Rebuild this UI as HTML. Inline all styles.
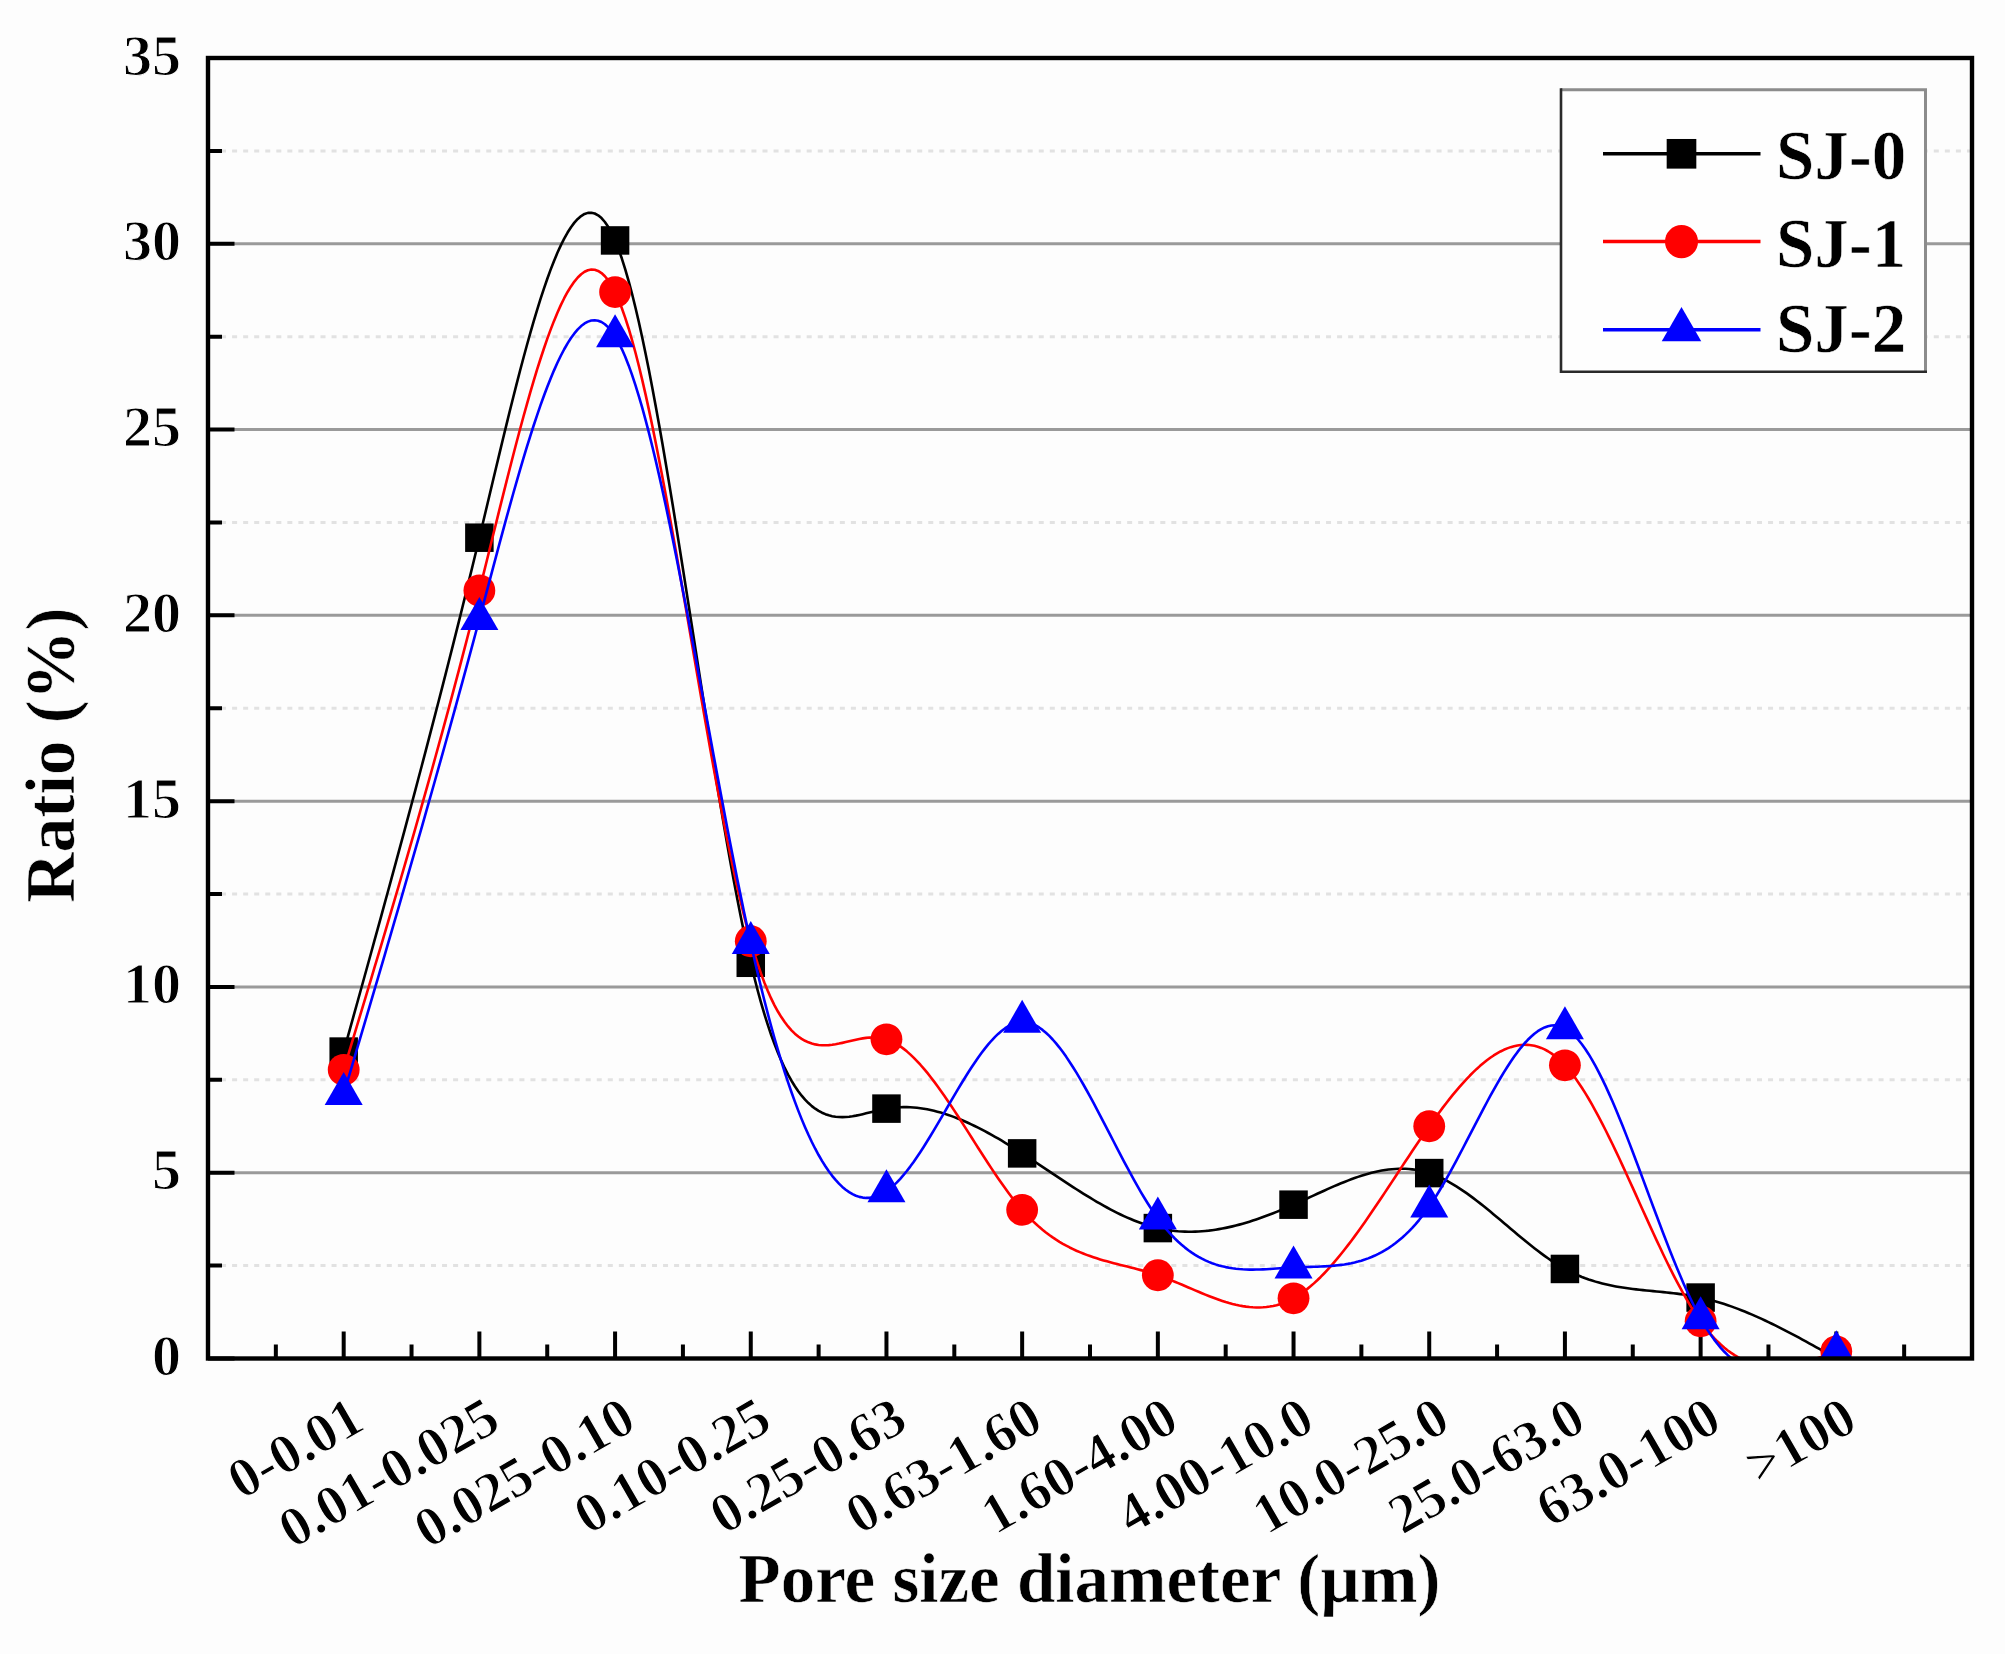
<!DOCTYPE html><html><head><meta charset="utf-8"><style>html,body{margin:0;padding:0;background:#fdfdfd;}svg{display:block;} text{font-family:"Liberation Serif","Times New Roman",serif;font-weight:bold;fill:#000;stroke:#fdfdfd;stroke-width:0.6px;} text.t{stroke-width:1.1px;}</style></head><body>
<svg width="2005" height="1654" viewBox="0 0 2005 1654">
<rect x="0" y="0" width="2005" height="1654" fill="#fdfdfd"/>
<defs><clipPath id="pc"><rect x="208.0" y="58.0" width="1764.0" height="1300.5"/></clipPath></defs>
<line x1="210.0" y1="1265.61" x2="1970.0" y2="1265.61" stroke="#e2e2e2" stroke-width="3" stroke-dasharray="5 6.05"/>
<line x1="210.0" y1="1079.82" x2="1970.0" y2="1079.82" stroke="#e2e2e2" stroke-width="3" stroke-dasharray="5 6.05"/>
<line x1="210.0" y1="894.04" x2="1970.0" y2="894.04" stroke="#e2e2e2" stroke-width="3" stroke-dasharray="5 6.05"/>
<line x1="210.0" y1="708.25" x2="1970.0" y2="708.25" stroke="#e2e2e2" stroke-width="3" stroke-dasharray="5 6.05"/>
<line x1="210.0" y1="522.46" x2="1970.0" y2="522.46" stroke="#e2e2e2" stroke-width="3" stroke-dasharray="5 6.05"/>
<line x1="210.0" y1="336.68" x2="1970.0" y2="336.68" stroke="#e2e2e2" stroke-width="3" stroke-dasharray="5 6.05"/>
<line x1="210.0" y1="150.89" x2="1970.0" y2="150.89" stroke="#e2e2e2" stroke-width="3" stroke-dasharray="5 6.05"/>
<line x1="208.0" y1="1172.71" x2="1972.0" y2="1172.71" stroke="#9a9a9a" stroke-width="3"/>
<line x1="208.0" y1="986.93" x2="1972.0" y2="986.93" stroke="#9a9a9a" stroke-width="3"/>
<line x1="208.0" y1="801.14" x2="1972.0" y2="801.14" stroke="#9a9a9a" stroke-width="3"/>
<line x1="208.0" y1="615.36" x2="1972.0" y2="615.36" stroke="#9a9a9a" stroke-width="3"/>
<line x1="208.0" y1="429.57" x2="1972.0" y2="429.57" stroke="#9a9a9a" stroke-width="3"/>
<line x1="208.0" y1="243.79" x2="1972.0" y2="243.79" stroke="#9a9a9a" stroke-width="3"/>
<path d="M208.0,1358.50h26.5 M208.0,1172.71h26.5 M208.0,986.93h26.5 M208.0,801.14h26.5 M208.0,615.36h26.5 M208.0,429.57h26.5 M208.0,243.79h26.5 M208.0,58.00h26.5 M208.0,1265.61h14 M208.0,1079.82h14 M208.0,894.04h14 M208.0,708.25h14 M208.0,522.46h14 M208.0,336.68h14 M208.0,150.89h14 M343.69,1358.5v-27 M479.38,1358.5v-27 M615.08,1358.5v-27 M750.77,1358.5v-27 M886.46,1358.5v-27 M1022.15,1358.5v-27 M1157.85,1358.5v-27 M1293.54,1358.5v-27 M1429.23,1358.5v-27 M1564.92,1358.5v-27 M1700.62,1358.5v-27 M1836.31,1358.5v-27 M275.85,1358.5v-14 M411.54,1358.5v-14 M547.23,1358.5v-14 M682.92,1358.5v-14 M818.62,1358.5v-14 M954.31,1358.5v-14 M1090.00,1358.5v-14 M1225.69,1358.5v-14 M1361.38,1358.5v-14 M1497.08,1358.5v-14 M1632.77,1358.5v-14 M1768.46,1358.5v-14 M1904.15,1358.5v-14" stroke="#000" stroke-width="4" fill="none"/>
<g clip-path="url(#pc)">
<path d="M343.69,1051.58 L347.08,1039.38 L350.48,1027.17 L353.87,1014.95 L357.26,1002.73 L360.65,990.50 L364.05,978.26 L367.44,966.00 L370.83,953.73 L374.22,941.44 L377.62,929.12 L381.01,916.79 L384.40,904.42 L387.79,892.03 L391.18,879.60 L394.58,867.14 L397.97,854.65 L401.36,842.12 L404.75,829.54 L408.15,816.92 L411.54,804.26 L414.93,791.55 L418.32,778.79 L421.72,765.97 L425.11,753.10 L428.50,740.18 L431.89,727.19 L435.28,714.14 L438.68,701.02 L442.07,687.84 L445.46,674.59 L448.85,661.26 L452.25,647.86 L455.64,634.39 L459.03,620.83 L462.42,607.20 L465.82,593.47 L469.21,579.67 L472.60,565.77 L475.99,551.78 L479.38,537.70 L482.78,523.53 L486.17,509.29 L489.56,495.02 L492.95,480.75 L496.35,466.52 L499.74,452.35 L503.13,438.28 L506.52,424.34 L509.92,410.56 L513.31,396.98 L516.70,383.62 L520.09,370.53 L523.48,357.72 L526.88,345.24 L530.27,333.12 L533.66,321.38 L537.05,310.07 L540.45,299.21 L543.84,288.83 L547.23,278.97 L550.62,269.67 L554.02,260.94 L557.41,252.83 L560.80,245.37 L564.19,238.59 L567.58,232.52 L570.98,227.20 L574.37,222.65 L577.76,218.91 L581.15,216.02 L584.55,213.99 L587.94,212.88 L591.33,212.70 L594.72,213.49 L598.12,215.28 L601.51,218.12 L604.90,222.01 L608.29,227.01 L611.68,233.15 L615.08,240.44 L618.47,248.92 L621.86,258.55 L625.25,269.27 L628.65,281.03 L632.04,293.78 L635.43,307.47 L638.82,322.05 L642.22,337.46 L645.61,353.66 L649.00,370.59 L652.39,388.20 L655.78,406.44 L659.18,425.25 L662.57,444.59 L665.96,464.41 L669.35,484.65 L672.75,505.26 L676.14,526.19 L679.53,547.38 L682.92,568.79 L686.32,590.37 L689.71,612.06 L693.10,633.81 L696.49,655.56 L699.88,677.28 L703.28,698.90 L706.67,720.38 L710.06,741.65 L713.45,762.68 L716.85,783.41 L720.24,803.78 L723.63,823.76 L727.02,843.27 L730.42,862.28 L733.81,880.73 L737.20,898.57 L740.59,915.74 L743.98,932.20 L747.38,947.90 L750.77,962.78 L754.16,976.80 L757.55,989.98 L760.95,1002.33 L764.34,1013.90 L767.73,1024.69 L771.12,1034.74 L774.52,1044.06 L777.91,1052.69 L781.30,1060.65 L784.69,1067.96 L788.08,1074.65 L791.48,1080.74 L794.87,1086.25 L798.26,1091.22 L801.65,1095.67 L805.05,1099.61 L808.44,1103.08 L811.83,1106.10 L815.22,1108.70 L818.62,1110.89 L822.01,1112.71 L825.40,1114.18 L828.79,1115.32 L832.18,1116.16 L835.58,1116.72 L838.97,1117.03 L842.36,1117.11 L845.75,1116.98 L849.15,1116.68 L852.54,1116.23 L855.93,1115.64 L859.32,1114.95 L862.72,1114.18 L866.11,1113.36 L869.50,1112.50 L872.89,1111.64 L876.28,1110.79 L879.68,1109.99 L883.07,1109.26 L886.46,1108.62 L889.85,1108.09 L893.25,1107.68 L896.64,1107.38 L900.03,1107.18 L903.42,1107.10 L906.82,1107.12 L910.21,1107.25 L913.60,1107.47 L916.99,1107.79 L920.38,1108.21 L923.78,1108.72 L927.17,1109.33 L930.56,1110.02 L933.95,1110.79 L937.35,1111.66 L940.74,1112.60 L944.13,1113.62 L947.52,1114.72 L950.92,1115.89 L954.31,1117.13 L957.70,1118.44 L961.09,1119.82 L964.48,1121.27 L967.88,1122.77 L971.27,1124.34 L974.66,1125.96 L978.05,1127.64 L981.45,1129.37 L984.84,1131.16 L988.23,1132.99 L991.62,1134.86 L995.02,1136.78 L998.41,1138.74 L1001.80,1140.74 L1005.19,1142.77 L1008.58,1144.84 L1011.98,1146.93 L1015.37,1149.06 L1018.76,1151.22 L1022.15,1153.39 L1025.55,1155.59 L1028.94,1157.81 L1032.33,1160.04 L1035.72,1162.29 L1039.12,1164.55 L1042.51,1166.81 L1045.90,1169.08 L1049.29,1171.35 L1052.68,1173.62 L1056.08,1175.89 L1059.47,1178.15 L1062.86,1180.40 L1066.25,1182.64 L1069.65,1184.86 L1073.04,1187.07 L1076.43,1189.25 L1079.82,1191.41 L1083.22,1193.55 L1086.61,1195.65 L1090.00,1197.72 L1093.39,1199.76 L1096.78,1201.76 L1100.18,1203.72 L1103.57,1205.64 L1106.96,1207.51 L1110.35,1209.33 L1113.75,1211.10 L1117.14,1212.81 L1120.53,1214.47 L1123.92,1216.06 L1127.32,1217.60 L1130.71,1219.06 L1134.10,1220.46 L1137.49,1221.79 L1140.88,1223.04 L1144.28,1224.21 L1147.67,1225.31 L1151.06,1226.32 L1154.45,1227.24 L1157.85,1228.08 L1161.24,1228.82 L1164.63,1229.48 L1168.02,1230.05 L1171.42,1230.53 L1174.81,1230.93 L1178.20,1231.24 L1181.59,1231.47 L1184.98,1231.62 L1188.38,1231.70 L1191.77,1231.70 L1195.16,1231.62 L1198.55,1231.47 L1201.95,1231.25 L1205.34,1230.96 L1208.73,1230.61 L1212.12,1230.18 L1215.52,1229.70 L1218.91,1229.15 L1222.30,1228.54 L1225.69,1227.87 L1229.08,1227.14 L1232.48,1226.36 L1235.87,1225.52 L1239.26,1224.63 L1242.65,1223.69 L1246.05,1222.70 L1249.44,1221.66 L1252.83,1220.58 L1256.22,1219.46 L1259.62,1218.29 L1263.01,1217.08 L1266.40,1215.83 L1269.79,1214.55 L1273.18,1213.23 L1276.58,1211.88 L1279.97,1210.49 L1283.36,1209.08 L1286.75,1207.64 L1290.15,1206.16 L1293.54,1204.67 L1296.93,1203.15 L1300.32,1201.61 L1303.72,1200.06 L1307.11,1198.50 L1310.50,1196.93 L1313.89,1195.36 L1317.28,1193.80 L1320.68,1192.24 L1324.07,1190.70 L1327.46,1189.17 L1330.85,1187.66 L1334.25,1186.18 L1337.64,1184.72 L1341.03,1183.31 L1344.42,1181.93 L1347.82,1180.59 L1351.21,1179.30 L1354.60,1178.07 L1357.99,1176.89 L1361.38,1175.77 L1364.78,1174.72 L1368.17,1173.74 L1371.56,1172.83 L1374.95,1172.00 L1378.35,1171.25 L1381.74,1170.59 L1385.13,1170.03 L1388.52,1169.56 L1391.92,1169.19 L1395.31,1168.93 L1398.70,1168.78 L1402.09,1168.74 L1405.48,1168.82 L1408.88,1169.02 L1412.27,1169.35 L1415.66,1169.82 L1419.05,1170.42 L1422.45,1171.16 L1425.84,1172.05 L1429.23,1173.09 L1432.62,1174.28 L1436.02,1175.61 L1439.41,1177.09 L1442.80,1178.71 L1446.19,1180.45 L1449.58,1182.31 L1452.98,1184.28 L1456.37,1186.36 L1459.76,1188.54 L1463.15,1190.82 L1466.55,1193.18 L1469.94,1195.62 L1473.33,1198.14 L1476.72,1200.72 L1480.12,1203.36 L1483.51,1206.06 L1486.90,1208.80 L1490.29,1211.58 L1493.68,1214.39 L1497.08,1217.22 L1500.47,1220.08 L1503.86,1222.95 L1507.25,1225.82 L1510.65,1228.70 L1514.04,1231.56 L1517.43,1234.41 L1520.82,1237.24 L1524.22,1240.04 L1527.61,1242.80 L1531.00,1245.53 L1534.39,1248.20 L1537.78,1250.82 L1541.18,1253.37 L1544.57,1255.86 L1547.96,1258.27 L1551.35,1260.60 L1554.75,1262.84 L1558.14,1264.98 L1561.53,1267.02 L1564.92,1268.95 L1568.32,1270.77 L1571.71,1272.47 L1575.10,1274.06 L1578.49,1275.56 L1581.88,1276.95 L1585.28,1278.25 L1588.67,1279.46 L1592.06,1280.58 L1595.45,1281.62 L1598.85,1282.59 L1602.24,1283.48 L1605.63,1284.30 L1609.02,1285.06 L1612.42,1285.76 L1615.81,1286.41 L1619.20,1287.00 L1622.59,1287.55 L1625.98,1288.06 L1629.38,1288.53 L1632.77,1288.97 L1636.16,1289.37 L1639.55,1289.76 L1642.95,1290.12 L1646.34,1290.47 L1649.73,1290.81 L1653.12,1291.14 L1656.52,1291.47 L1659.91,1291.80 L1663.30,1292.14 L1666.69,1292.49 L1670.08,1292.86 L1673.48,1293.24 L1676.87,1293.65 L1680.26,1294.09 L1683.65,1294.56 L1687.05,1295.07 L1690.44,1295.62 L1693.83,1296.21 L1697.22,1296.86 L1700.62,1297.56 L1704.01,1298.32 L1707.40,1299.14 L1710.79,1300.02 L1714.18,1300.95 L1717.58,1301.93 L1720.97,1302.96 L1724.36,1304.05 L1727.75,1305.18 L1731.15,1306.37 L1734.54,1307.60 L1737.93,1308.87 L1741.32,1310.19 L1744.72,1311.54 L1748.11,1312.94 L1751.50,1314.38 L1754.89,1315.85 L1758.28,1317.36 L1761.68,1318.90 L1765.07,1320.48 L1768.46,1322.09 L1771.85,1323.72 L1775.25,1325.39 L1778.64,1327.08 L1782.03,1328.80 L1785.42,1330.54 L1788.82,1332.30 L1792.21,1334.09 L1795.60,1335.89 L1798.99,1337.71 L1802.38,1339.55 L1805.78,1341.40 L1809.17,1343.27 L1812.56,1345.15 L1815.95,1347.04 L1819.35,1348.93 L1822.74,1350.84 L1826.13,1352.75 L1829.52,1354.66 L1832.92,1356.58 L1836.31,1358.50" fill="none" stroke="#000000" stroke-width="2.60" stroke-linejoin="round"/>
<rect x="329.44" y="1037.33" width="28.50" height="28.50" fill="#000000"/>
<rect x="465.13" y="523.45" width="28.50" height="28.50" fill="#000000"/>
<rect x="600.83" y="226.19" width="28.50" height="28.50" fill="#000000"/>
<rect x="736.52" y="948.53" width="28.50" height="28.50" fill="#000000"/>
<rect x="872.21" y="1094.37" width="28.50" height="28.50" fill="#000000"/>
<rect x="1007.90" y="1139.14" width="28.50" height="28.50" fill="#000000"/>
<rect x="1143.60" y="1213.83" width="28.50" height="28.50" fill="#000000"/>
<rect x="1279.29" y="1190.42" width="28.50" height="28.50" fill="#000000"/>
<rect x="1414.98" y="1158.84" width="28.50" height="28.50" fill="#000000"/>
<rect x="1550.67" y="1254.70" width="28.50" height="28.50" fill="#000000"/>
<rect x="1686.37" y="1283.31" width="28.50" height="28.50" fill="#000000"/>
<rect x="1822.06" y="1344.25" width="28.50" height="28.50" fill="#000000"/>
<path d="M343.69,1069.79 L347.08,1058.57 L350.48,1047.35 L353.87,1036.13 L357.26,1024.89 L360.65,1013.65 L364.05,1002.39 L367.44,991.11 L370.83,979.81 L374.22,968.49 L377.62,957.14 L381.01,945.77 L384.40,934.36 L387.79,922.92 L391.18,911.44 L394.58,899.92 L397.97,888.36 L401.36,876.75 L404.75,865.10 L408.15,853.39 L411.54,841.62 L414.93,829.80 L418.32,817.92 L421.72,805.98 L425.11,793.97 L428.50,781.89 L431.89,769.74 L435.28,757.51 L438.68,745.21 L442.07,732.82 L445.46,720.36 L448.85,707.80 L452.25,695.16 L455.64,682.42 L459.03,669.59 L462.42,656.67 L465.82,643.64 L469.21,630.51 L472.60,617.27 L475.99,603.92 L479.38,590.46 L482.78,576.89 L486.17,563.24 L489.56,549.54 L492.95,535.81 L496.35,522.10 L499.74,508.42 L503.13,494.82 L506.52,481.33 L509.92,467.96 L513.31,454.77 L516.70,441.78 L520.09,429.01 L523.48,416.51 L526.88,404.29 L530.27,392.41 L533.66,380.87 L537.05,369.73 L540.45,359.00 L543.84,348.72 L547.23,338.92 L550.62,329.63 L554.02,320.89 L557.41,312.72 L560.80,305.15 L564.19,298.23 L567.58,291.97 L570.98,286.41 L574.37,281.58 L577.76,277.52 L581.15,274.25 L584.55,271.80 L587.94,270.21 L591.33,269.51 L594.72,269.73 L598.12,270.90 L601.51,273.04 L604.90,276.21 L608.29,280.42 L611.68,285.70 L615.08,292.09 L618.47,299.61 L621.86,308.21 L625.25,317.85 L628.65,328.48 L632.04,340.04 L635.43,352.49 L638.82,365.77 L642.22,379.84 L645.61,394.64 L649.00,410.13 L652.39,426.25 L655.78,442.95 L659.18,460.18 L662.57,477.89 L665.96,496.03 L669.35,514.55 L672.75,533.40 L676.14,552.52 L679.53,571.88 L682.92,591.41 L686.32,611.07 L689.71,630.80 L693.10,650.56 L696.49,670.29 L699.88,689.95 L703.28,709.48 L706.67,728.83 L710.06,747.95 L713.45,766.80 L716.85,785.31 L720.24,803.45 L723.63,821.15 L727.02,838.38 L730.42,855.07 L733.81,871.18 L737.20,886.66 L740.59,901.45 L743.98,915.51 L747.38,928.79 L750.77,941.23 L754.16,952.79 L757.55,963.50 L760.95,973.39 L764.34,982.48 L767.73,990.81 L771.12,998.41 L774.52,1005.30 L777.91,1011.52 L781.30,1017.10 L784.69,1022.07 L788.08,1026.46 L791.48,1030.31 L794.87,1033.63 L798.26,1036.46 L801.65,1038.84 L805.05,1040.79 L808.44,1042.35 L811.83,1043.54 L815.22,1044.40 L818.62,1044.95 L822.01,1045.23 L825.40,1045.26 L828.79,1045.09 L832.18,1044.73 L835.58,1044.22 L838.97,1043.59 L842.36,1042.87 L845.75,1042.09 L849.15,1041.29 L852.54,1040.49 L855.93,1039.72 L859.32,1039.01 L862.72,1038.40 L866.11,1037.91 L869.50,1037.58 L872.89,1037.43 L876.28,1037.50 L879.68,1037.82 L883.07,1038.42 L886.46,1039.32 L889.85,1040.56 L893.25,1042.12 L896.64,1043.99 L900.03,1046.17 L903.42,1048.63 L906.82,1051.36 L910.21,1054.35 L913.60,1057.58 L916.99,1061.05 L920.38,1064.74 L923.78,1068.62 L927.17,1072.70 L930.56,1076.96 L933.95,1081.38 L937.35,1085.96 L940.74,1090.67 L944.13,1095.50 L947.52,1100.45 L950.92,1105.49 L954.31,1110.61 L957.70,1115.81 L961.09,1121.06 L964.48,1126.35 L967.88,1131.67 L971.27,1137.01 L974.66,1142.36 L978.05,1147.69 L981.45,1152.99 L984.84,1158.26 L988.23,1163.48 L991.62,1168.63 L995.02,1173.71 L998.41,1178.69 L1001.80,1183.57 L1005.19,1188.33 L1008.58,1192.95 L1011.98,1197.44 L1015.37,1201.76 L1018.76,1205.91 L1022.15,1209.87 L1025.55,1213.64 L1028.94,1217.21 L1032.33,1220.60 L1035.72,1223.81 L1039.12,1226.85 L1042.51,1229.72 L1045.90,1232.43 L1049.29,1234.98 L1052.68,1237.39 L1056.08,1239.66 L1059.47,1241.79 L1062.86,1243.80 L1066.25,1245.69 L1069.65,1247.47 L1073.04,1249.13 L1076.43,1250.70 L1079.82,1252.17 L1083.22,1253.56 L1086.61,1254.86 L1090.00,1256.09 L1093.39,1257.26 L1096.78,1258.36 L1100.18,1259.40 L1103.57,1260.40 L1106.96,1261.36 L1110.35,1262.29 L1113.75,1263.18 L1117.14,1264.06 L1120.53,1264.91 L1123.92,1265.77 L1127.32,1266.61 L1130.71,1267.47 L1134.10,1268.33 L1137.49,1269.22 L1140.88,1270.13 L1144.28,1271.07 L1147.67,1272.04 L1151.06,1273.06 L1154.45,1274.14 L1157.85,1275.27 L1161.24,1276.46 L1164.63,1277.71 L1168.02,1279.01 L1171.42,1280.35 L1174.81,1281.73 L1178.20,1283.14 L1181.59,1284.57 L1184.98,1286.02 L1188.38,1287.47 L1191.77,1288.93 L1195.16,1290.38 L1198.55,1291.81 L1201.95,1293.23 L1205.34,1294.62 L1208.73,1295.97 L1212.12,1297.29 L1215.52,1298.55 L1218.91,1299.77 L1222.30,1300.91 L1225.69,1302.00 L1229.08,1303.00 L1232.48,1303.92 L1235.87,1304.75 L1239.26,1305.49 L1242.65,1306.12 L1246.05,1306.64 L1249.44,1307.04 L1252.83,1307.31 L1256.22,1307.46 L1259.62,1307.46 L1263.01,1307.32 L1266.40,1307.02 L1269.79,1306.57 L1273.18,1305.94 L1276.58,1305.15 L1279.97,1304.17 L1283.36,1303.00 L1286.75,1301.64 L1290.15,1300.08 L1293.54,1298.31 L1296.93,1296.32 L1300.32,1294.12 L1303.72,1291.72 L1307.11,1289.13 L1310.50,1286.35 L1313.89,1283.39 L1317.28,1280.25 L1320.68,1276.95 L1324.07,1273.49 L1327.46,1269.88 L1330.85,1266.12 L1334.25,1262.23 L1337.64,1258.20 L1341.03,1254.05 L1344.42,1249.79 L1347.82,1245.41 L1351.21,1240.94 L1354.60,1236.37 L1357.99,1231.71 L1361.38,1226.97 L1364.78,1222.15 L1368.17,1217.28 L1371.56,1212.34 L1374.95,1207.35 L1378.35,1202.31 L1381.74,1197.24 L1385.13,1192.14 L1388.52,1187.01 L1391.92,1181.87 L1395.31,1176.71 L1398.70,1171.56 L1402.09,1166.41 L1405.48,1161.28 L1408.88,1156.16 L1412.27,1151.07 L1415.66,1146.01 L1419.05,1141.00 L1422.45,1136.03 L1425.84,1131.12 L1429.23,1126.27 L1432.62,1121.49 L1436.02,1116.78 L1439.41,1112.16 L1442.80,1107.64 L1446.19,1103.20 L1449.58,1098.88 L1452.98,1094.67 L1456.37,1090.57 L1459.76,1086.60 L1463.15,1082.77 L1466.55,1079.08 L1469.94,1075.53 L1473.33,1072.14 L1476.72,1068.92 L1480.12,1065.86 L1483.51,1062.98 L1486.90,1060.28 L1490.29,1057.77 L1493.68,1055.46 L1497.08,1053.36 L1500.47,1051.47 L1503.86,1049.79 L1507.25,1048.35 L1510.65,1047.14 L1514.04,1046.16 L1517.43,1045.44 L1520.82,1044.97 L1524.22,1044.77 L1527.61,1044.83 L1531.00,1045.17 L1534.39,1045.79 L1537.78,1046.70 L1541.18,1047.91 L1544.57,1049.43 L1547.96,1051.26 L1551.35,1053.41 L1554.75,1055.88 L1558.14,1058.69 L1561.53,1061.83 L1564.92,1065.33 L1568.32,1069.18 L1571.71,1073.36 L1575.10,1077.87 L1578.49,1082.68 L1581.88,1087.78 L1585.28,1093.16 L1588.67,1098.79 L1592.06,1104.66 L1595.45,1110.76 L1598.85,1117.06 L1602.24,1123.56 L1605.63,1130.23 L1609.02,1137.05 L1612.42,1144.02 L1615.81,1151.12 L1619.20,1158.32 L1622.59,1165.62 L1625.98,1172.99 L1629.38,1180.42 L1632.77,1187.90 L1636.16,1195.40 L1639.55,1202.92 L1642.95,1210.43 L1646.34,1217.91 L1649.73,1225.36 L1653.12,1232.75 L1656.52,1240.08 L1659.91,1247.31 L1663.30,1254.44 L1666.69,1261.45 L1670.08,1268.33 L1673.48,1275.05 L1676.87,1281.60 L1680.26,1287.97 L1683.65,1294.13 L1687.05,1300.08 L1690.44,1305.79 L1693.83,1311.24 L1697.22,1316.44 L1700.62,1321.34 L1704.01,1325.95 L1707.40,1330.27 L1710.79,1334.30 L1714.18,1338.06 L1717.58,1341.54 L1720.97,1344.76 L1724.36,1347.73 L1727.75,1350.44 L1731.15,1352.92 L1734.54,1355.16 L1737.93,1357.18 L1741.32,1358.98 L1744.72,1360.57 L1748.11,1361.96 L1751.50,1363.15 L1754.89,1364.15 L1758.28,1364.98 L1761.68,1365.63 L1765.07,1366.12 L1768.46,1366.44 L1771.85,1366.62 L1775.25,1366.66 L1778.64,1366.56 L1782.03,1366.33 L1785.42,1365.98 L1788.82,1365.52 L1792.21,1364.95 L1795.60,1364.29 L1798.99,1363.53 L1802.38,1362.70 L1805.78,1361.79 L1809.17,1360.81 L1812.56,1359.77 L1815.95,1358.68 L1819.35,1357.54 L1822.74,1356.36 L1826.13,1355.16 L1829.52,1353.93 L1832.92,1352.69 L1836.31,1351.44" fill="none" stroke="#ff0000" stroke-width="2.60" stroke-linejoin="round"/>
<circle cx="343.69" cy="1069.79" r="15.90" fill="#ff0000"/>
<circle cx="479.38" cy="590.46" r="15.90" fill="#ff0000"/>
<circle cx="615.08" cy="292.09" r="15.90" fill="#ff0000"/>
<circle cx="750.77" cy="941.23" r="15.90" fill="#ff0000"/>
<circle cx="886.46" cy="1039.32" r="15.90" fill="#ff0000"/>
<circle cx="1022.15" cy="1209.87" r="15.90" fill="#ff0000"/>
<circle cx="1157.85" cy="1275.27" r="15.90" fill="#ff0000"/>
<circle cx="1293.54" cy="1298.31" r="15.90" fill="#ff0000"/>
<circle cx="1429.23" cy="1126.27" r="15.90" fill="#ff0000"/>
<circle cx="1564.92" cy="1065.33" r="15.90" fill="#ff0000"/>
<circle cx="1700.62" cy="1321.34" r="15.90" fill="#ff0000"/>
<circle cx="1836.31" cy="1351.44" r="15.90" fill="#ff0000"/>
<path d="M343.69,1093.94 L347.08,1082.48 L350.48,1071.02 L353.87,1059.56 L357.26,1048.10 L360.65,1036.62 L364.05,1025.14 L367.44,1013.65 L370.83,1002.15 L374.22,990.64 L377.62,979.11 L381.01,967.57 L384.40,956.01 L387.79,944.43 L391.18,932.83 L394.58,921.21 L397.97,909.57 L401.36,897.90 L404.75,886.20 L408.15,874.48 L411.54,862.73 L414.93,850.94 L418.32,839.12 L421.72,827.27 L425.11,815.39 L428.50,803.46 L431.89,791.50 L435.28,779.50 L438.68,767.45 L442.07,755.36 L445.46,743.23 L448.85,731.05 L452.25,718.82 L455.64,706.54 L459.03,694.21 L462.42,681.83 L465.82,669.40 L469.21,656.90 L472.60,644.35 L475.99,631.74 L479.38,619.07 L482.78,606.35 L486.17,593.58 L489.56,580.81 L492.95,568.05 L496.35,555.33 L499.74,542.68 L503.13,530.12 L506.52,517.68 L509.92,505.38 L513.31,493.25 L516.70,481.32 L520.09,469.61 L523.48,458.15 L526.88,446.96 L530.27,436.07 L533.66,425.50 L537.05,415.29 L540.45,405.45 L543.84,396.01 L547.23,387.00 L550.62,378.44 L554.02,370.36 L557.41,362.79 L560.80,355.75 L564.19,349.26 L567.58,343.36 L570.98,338.07 L574.37,333.40 L577.76,329.40 L581.15,326.09 L584.55,323.48 L587.94,321.62 L591.33,320.51 L594.72,320.20 L598.12,320.69 L601.51,322.03 L604.90,324.24 L608.29,327.34 L611.68,331.35 L615.08,336.31 L618.47,342.22 L621.86,349.07 L625.25,356.82 L628.65,365.42 L632.04,374.86 L635.43,385.07 L638.82,396.05 L642.22,407.73 L645.61,420.10 L649.00,433.11 L652.39,446.73 L655.78,460.91 L659.18,475.64 L662.57,490.86 L665.96,506.54 L669.35,522.65 L672.75,539.15 L676.14,556.01 L679.53,573.18 L682.92,590.63 L686.32,608.33 L689.71,626.24 L693.10,644.32 L696.49,662.54 L699.88,680.85 L703.28,699.24 L706.67,717.65 L710.06,736.05 L713.45,754.41 L716.85,772.69 L720.24,790.85 L723.63,808.86 L727.02,826.68 L730.42,844.27 L733.81,861.60 L737.20,878.64 L740.59,895.34 L743.98,911.67 L747.38,927.60 L750.77,943.08 L754.16,958.09 L757.55,972.63 L760.95,986.69 L764.34,1000.28 L767.73,1013.40 L771.12,1026.04 L774.52,1038.23 L777.91,1049.94 L781.30,1061.20 L784.69,1071.99 L788.08,1082.33 L791.48,1092.21 L794.87,1101.63 L798.26,1110.60 L801.65,1119.12 L805.05,1127.19 L808.44,1134.81 L811.83,1141.99 L815.22,1148.73 L818.62,1155.02 L822.01,1160.87 L825.40,1166.29 L828.79,1171.28 L832.18,1175.82 L835.58,1179.94 L838.97,1183.63 L842.36,1186.89 L845.75,1189.73 L849.15,1192.14 L852.54,1194.13 L855.93,1195.70 L859.32,1196.86 L862.72,1197.60 L866.11,1197.92 L869.50,1197.83 L872.89,1197.34 L876.28,1196.43 L879.68,1195.12 L883.07,1193.41 L886.46,1191.29 L889.85,1188.78 L893.25,1185.89 L896.64,1182.65 L900.03,1179.07 L903.42,1175.19 L906.82,1171.02 L910.21,1166.59 L913.60,1161.92 L916.99,1157.02 L920.38,1151.94 L923.78,1146.68 L927.17,1141.28 L930.56,1135.74 L933.95,1130.11 L937.35,1124.39 L940.74,1118.62 L944.13,1112.80 L947.52,1106.98 L950.92,1101.17 L954.31,1095.39 L957.70,1089.67 L961.09,1084.02 L964.48,1078.48 L967.88,1073.06 L971.27,1067.79 L974.66,1062.69 L978.05,1057.78 L981.45,1053.08 L984.84,1048.63 L988.23,1044.43 L991.62,1040.52 L995.02,1036.92 L998.41,1033.64 L1001.80,1030.72 L1005.19,1028.17 L1008.58,1026.02 L1011.98,1024.29 L1015.37,1023.01 L1018.76,1022.19 L1022.15,1021.86 L1025.55,1022.03 L1028.94,1022.70 L1032.33,1023.83 L1035.72,1025.42 L1039.12,1027.45 L1042.51,1029.89 L1045.90,1032.72 L1049.29,1035.92 L1052.68,1039.48 L1056.08,1043.38 L1059.47,1047.58 L1062.86,1052.09 L1066.25,1056.87 L1069.65,1061.91 L1073.04,1067.18 L1076.43,1072.67 L1079.82,1078.36 L1083.22,1084.23 L1086.61,1090.25 L1090.00,1096.41 L1093.39,1102.69 L1096.78,1109.07 L1100.18,1115.53 L1103.57,1122.05 L1106.96,1128.61 L1110.35,1135.18 L1113.75,1141.76 L1117.14,1148.32 L1120.53,1154.85 L1123.92,1161.31 L1127.32,1167.69 L1130.71,1173.98 L1134.10,1180.15 L1137.49,1186.19 L1140.88,1192.07 L1144.28,1197.77 L1147.67,1203.27 L1151.06,1208.56 L1154.45,1213.62 L1157.85,1218.42 L1161.24,1222.95 L1164.63,1227.21 L1168.02,1231.22 L1171.42,1234.97 L1174.81,1238.48 L1178.20,1241.75 L1181.59,1244.80 L1184.98,1247.62 L1188.38,1250.23 L1191.77,1252.64 L1195.16,1254.85 L1198.55,1256.87 L1201.95,1258.70 L1205.34,1260.36 L1208.73,1261.86 L1212.12,1263.19 L1215.52,1264.38 L1218.91,1265.42 L1222.30,1266.32 L1225.69,1267.10 L1229.08,1267.75 L1232.48,1268.30 L1235.87,1268.73 L1239.26,1269.07 L1242.65,1269.32 L1246.05,1269.49 L1249.44,1269.58 L1252.83,1269.60 L1256.22,1269.57 L1259.62,1269.48 L1263.01,1269.35 L1266.40,1269.18 L1269.79,1268.99 L1273.18,1268.77 L1276.58,1268.54 L1279.97,1268.31 L1283.36,1268.07 L1286.75,1267.85 L1290.15,1267.65 L1293.54,1267.46 L1296.93,1267.31 L1300.32,1267.19 L1303.72,1267.08 L1307.11,1266.99 L1310.50,1266.89 L1313.89,1266.79 L1317.28,1266.68 L1320.68,1266.55 L1324.07,1266.39 L1327.46,1266.19 L1330.85,1265.96 L1334.25,1265.67 L1337.64,1265.32 L1341.03,1264.91 L1344.42,1264.43 L1347.82,1263.87 L1351.21,1263.21 L1354.60,1262.47 L1357.99,1261.61 L1361.38,1260.65 L1364.78,1259.57 L1368.17,1258.37 L1371.56,1257.03 L1374.95,1255.55 L1378.35,1253.92 L1381.74,1252.13 L1385.13,1250.18 L1388.52,1248.07 L1391.92,1245.77 L1395.31,1243.28 L1398.70,1240.60 L1402.09,1237.72 L1405.48,1234.63 L1408.88,1231.33 L1412.27,1227.80 L1415.66,1224.04 L1419.05,1220.04 L1422.45,1215.79 L1425.84,1211.29 L1429.23,1206.53 L1432.62,1201.50 L1436.02,1196.22 L1439.41,1190.72 L1442.80,1185.02 L1446.19,1179.13 L1449.58,1173.08 L1452.98,1166.90 L1456.37,1160.60 L1459.76,1154.20 L1463.15,1147.73 L1466.55,1141.21 L1469.94,1134.66 L1473.33,1128.11 L1476.72,1121.56 L1480.12,1115.06 L1483.51,1108.61 L1486.90,1102.24 L1490.29,1095.98 L1493.68,1089.84 L1497.08,1083.84 L1500.47,1078.01 L1503.86,1072.38 L1507.25,1066.95 L1510.65,1061.75 L1514.04,1056.81 L1517.43,1052.15 L1520.82,1047.79 L1524.22,1043.75 L1527.61,1040.04 L1531.00,1036.71 L1534.39,1033.76 L1537.78,1031.21 L1541.18,1029.10 L1544.57,1027.44 L1547.96,1026.25 L1551.35,1025.56 L1554.75,1025.38 L1558.14,1025.74 L1561.53,1026.67 L1564.92,1028.17 L1568.32,1030.28 L1571.71,1032.96 L1575.10,1036.20 L1578.49,1039.96 L1581.88,1044.24 L1585.28,1048.99 L1588.67,1054.19 L1592.06,1059.83 L1595.45,1065.87 L1598.85,1072.30 L1602.24,1079.08 L1605.63,1086.18 L1609.02,1093.60 L1612.42,1101.29 L1615.81,1109.25 L1619.20,1117.43 L1622.59,1125.82 L1625.98,1134.39 L1629.38,1143.11 L1632.77,1151.97 L1636.16,1160.93 L1639.55,1169.98 L1642.95,1179.08 L1646.34,1188.22 L1649.73,1197.36 L1653.12,1206.48 L1656.52,1215.56 L1659.91,1224.57 L1663.30,1233.49 L1666.69,1242.30 L1670.08,1250.95 L1673.48,1259.45 L1676.87,1267.75 L1680.26,1275.83 L1683.65,1283.67 L1687.05,1291.24 L1690.44,1298.53 L1693.83,1305.49 L1697.22,1312.11 L1700.62,1318.37 L1704.01,1324.24 L1707.40,1329.73 L1710.79,1334.85 L1714.18,1339.60 L1717.58,1344.01 L1720.97,1348.07 L1724.36,1351.79 L1727.75,1355.20 L1731.15,1358.29 L1734.54,1361.08 L1737.93,1363.57 L1741.32,1365.78 L1744.72,1367.72 L1748.11,1369.39 L1751.50,1370.81 L1754.89,1371.98 L1758.28,1372.92 L1761.68,1373.63 L1765.07,1374.13 L1768.46,1374.43 L1771.85,1374.52 L1775.25,1374.43 L1778.64,1374.17 L1782.03,1373.73 L1785.42,1373.15 L1788.82,1372.41 L1792.21,1371.54 L1795.60,1370.54 L1798.99,1369.42 L1802.38,1368.20 L1805.78,1366.88 L1809.17,1365.46 L1812.56,1363.98 L1815.95,1362.42 L1819.35,1360.80 L1822.74,1359.14 L1826.13,1357.43 L1829.52,1355.70 L1832.92,1353.95 L1836.31,1352.18" fill="none" stroke="#0000ff" stroke-width="2.60" stroke-linejoin="round"/>
<polygon points="343.69,1071.94 362.69,1104.94 324.69,1104.94" fill="#0000ff"/>
<polygon points="479.38,597.07 498.38,630.07 460.38,630.07" fill="#0000ff"/>
<polygon points="615.08,314.31 634.08,347.31 596.08,347.31" fill="#0000ff"/>
<polygon points="750.77,921.08 769.77,954.08 731.77,954.08" fill="#0000ff"/>
<polygon points="886.46,1169.29 905.46,1202.29 867.46,1202.29" fill="#0000ff"/>
<polygon points="1022.15,999.86 1041.15,1032.86 1003.15,1032.86" fill="#0000ff"/>
<polygon points="1157.85,1196.42 1176.85,1229.42 1138.85,1229.42" fill="#0000ff"/>
<polygon points="1293.54,1245.46 1312.54,1278.46 1274.54,1278.46" fill="#0000ff"/>
<polygon points="1429.23,1184.53 1448.23,1217.53 1410.23,1217.53" fill="#0000ff"/>
<polygon points="1564.92,1006.17 1583.92,1039.17 1545.92,1039.17" fill="#0000ff"/>
<polygon points="1700.62,1296.37 1719.62,1329.37 1681.62,1329.37" fill="#0000ff"/>
<polygon points="1836.31,1330.18 1855.31,1363.18 1817.31,1363.18" fill="#0000ff"/>
</g>
<rect x="208.0" y="58.0" width="1764.0" height="1300.5" fill="none" stroke="#000" stroke-width="4.4"/>
<text class="t" x="181" y="1375.0" font-size="58" text-anchor="end">0</text>
<text class="t" x="181" y="1189.2" font-size="58" text-anchor="end">5</text>
<text class="t" x="181" y="1003.4" font-size="58" text-anchor="end">10</text>
<text class="t" x="181" y="817.6" font-size="58" text-anchor="end">15</text>
<text class="t" x="181" y="631.9" font-size="58" text-anchor="end">20</text>
<text class="t" x="181" y="446.1" font-size="58" text-anchor="end">25</text>
<text class="t" x="181" y="260.3" font-size="58" text-anchor="end">30</text>
<text class="t" x="181" y="74.5" font-size="58" text-anchor="end">35</text>
<text class="t" x="0" y="0" font-size="56.0" text-anchor="end" transform="translate(367.1 1428.0) rotate(-30)">0-0.01</text>
<text class="t" x="0" y="0" font-size="56.0" text-anchor="end" transform="translate(502.8 1428.0) rotate(-30)">0.01-0.025</text>
<text class="t" x="0" y="0" font-size="56.0" text-anchor="end" transform="translate(638.5 1428.0) rotate(-30)">0.025-0.10</text>
<text class="t" x="0" y="0" font-size="56.0" text-anchor="end" transform="translate(774.2 1428.0) rotate(-30)">0.10-0.25</text>
<text class="t" x="0" y="0" font-size="56.0" text-anchor="end" transform="translate(909.9 1428.0) rotate(-30)">0.25-0.63</text>
<text class="t" x="0" y="0" font-size="56.0" text-anchor="end" transform="translate(1045.6 1428.0) rotate(-30)">0.63-1.60</text>
<text class="t" x="0" y="0" font-size="56.0" text-anchor="end" transform="translate(1181.2 1428.0) rotate(-30)">1.60-4.00</text>
<text class="t" x="0" y="0" font-size="56.0" text-anchor="end" transform="translate(1316.9 1428.0) rotate(-30)">4.00-10.0</text>
<text class="t" x="0" y="0" font-size="56.0" text-anchor="end" transform="translate(1452.6 1428.0) rotate(-30)">10.0-25.0</text>
<text class="t" x="0" y="0" font-size="56.0" text-anchor="end" transform="translate(1588.3 1428.0) rotate(-30)">25.0-63.0</text>
<text class="t" x="0" y="0" font-size="56.0" text-anchor="end" transform="translate(1724.0 1428.0) rotate(-30)">63.0-100</text>
<text class="t" x="0" y="0" font-size="56.0" text-anchor="end" transform="translate(1859.7 1428.0) rotate(-30)">&gt;100</text>
<text x="0" y="0" font-size="69.5" text-anchor="middle" transform="translate(74 755) rotate(-90)">Ratio (%)</text>
<text x="1089.5" y="1601.7" font-size="69" text-anchor="middle">Pore size diameter (µm)</text>
<rect x="1561.0" y="89.8" width="364.5" height="282.0" fill="#fefefe"/>
<path d="M1561.0,89.8H1925.5V371.8" fill="none" stroke="#8c8c8c" stroke-width="3"/>
<path d="M1561.0,88.3V371.8H1927.0" fill="none" stroke="#2a2a2a" stroke-width="2.6"/>
<line x1="1603" y1="153.8" x2="1760.5" y2="153.8" stroke="#000000" stroke-width="3.5"/>
<rect x="1666.68" y="138.98" width="29.64" height="29.64" fill="#000000"/>
<text x="1776" y="178.7" font-size="69">SJ-0</text>
<line x1="1603" y1="241.6" x2="1760.5" y2="241.6" stroke="#ff0000" stroke-width="3.5"/>
<circle cx="1681.50" cy="241.60" r="16.54" fill="#ff0000"/>
<text x="1776" y="266.6" font-size="69">SJ-1</text>
<line x1="1603" y1="329.8" x2="1760.5" y2="329.8" stroke="#0000ff" stroke-width="3.5"/>
<polygon points="1681.50,306.92 1701.26,341.24 1661.74,341.24" fill="#0000ff"/>
<text x="1776" y="352.4" font-size="69">SJ-2</text>
</svg></body></html>
